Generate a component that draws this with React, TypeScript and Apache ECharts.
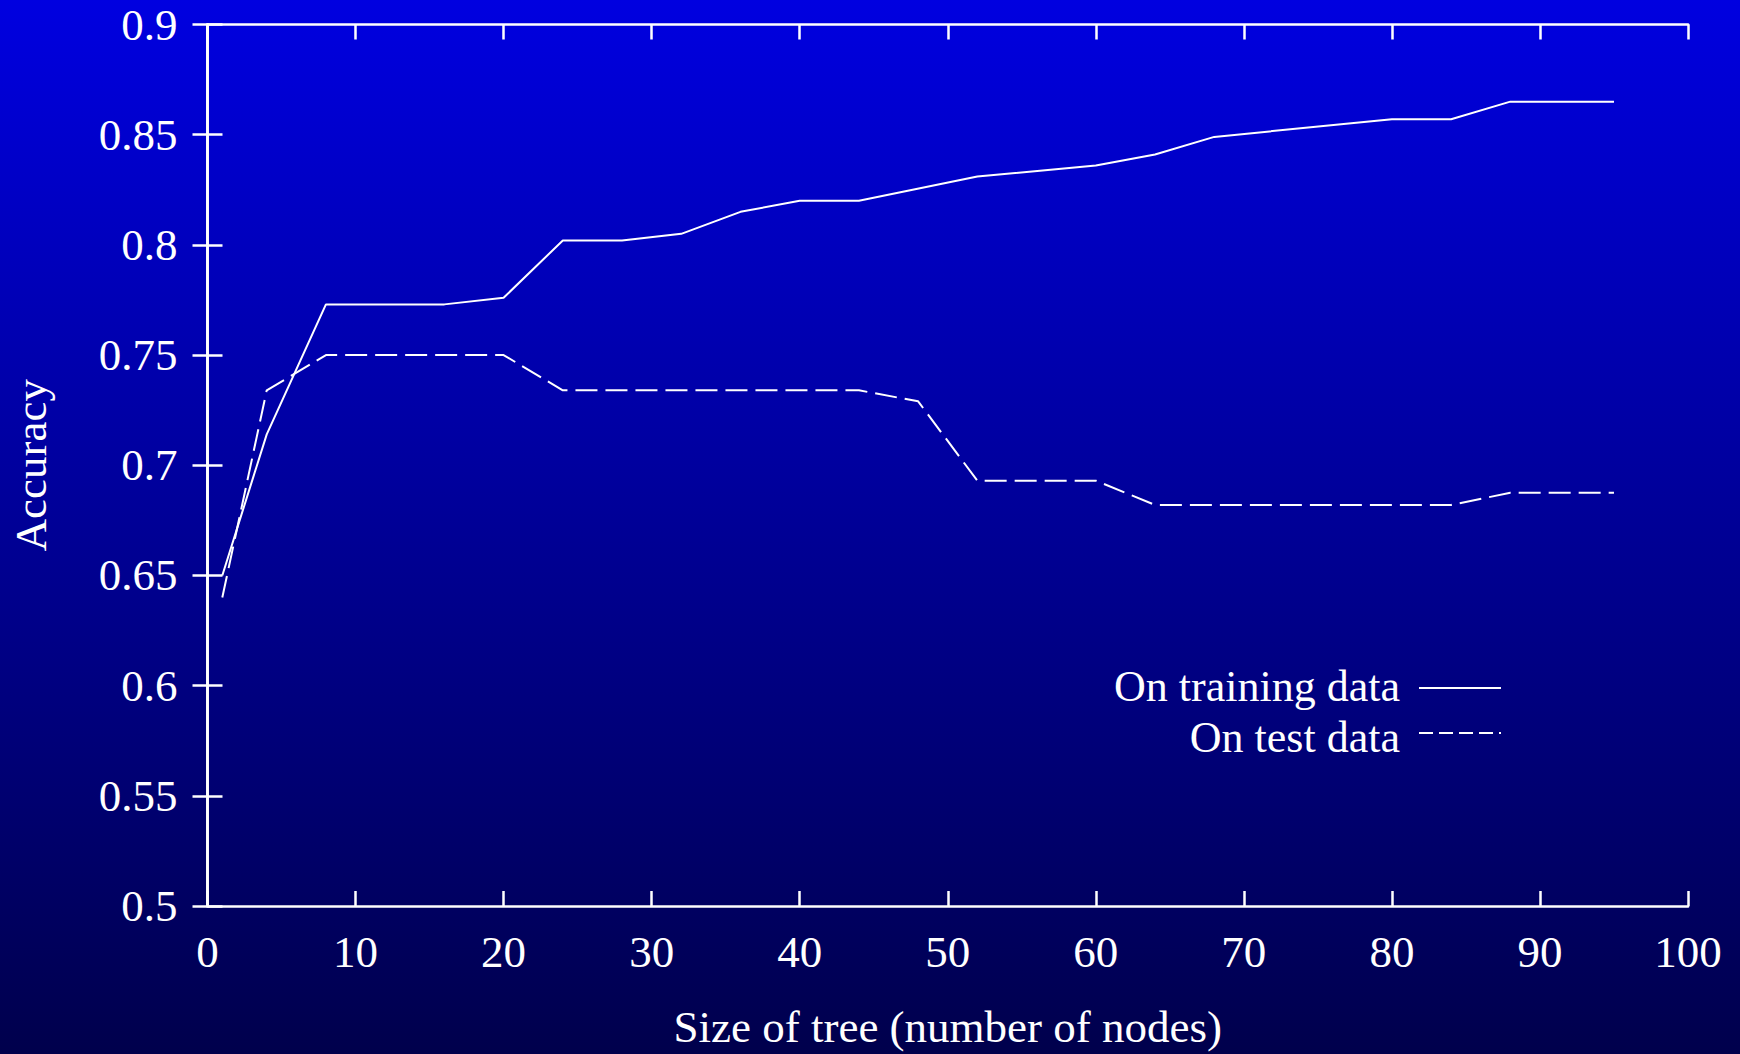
import React, { useEffect, useRef } from "react";
import * as echarts from "echarts";

const xTicks = [0, 10, 20, 30, 40, 50, 60, 70, 80, 90, 100];
const yTicks = [0.5, 0.55, 0.6, 0.65, 0.7, 0.75, 0.8, 0.85, 0.9];

const trainSize = [1, 4, 8, 16, 20, 24, 28, 32, 36, 40, 44, 52, 60, 64, 68, 80, 84, 88, 95];
const trainAcc = [0.65, 0.714, 0.773, 0.773, 0.776, 0.802, 0.802, 0.805, 0.815, 0.82, 0.82, 0.831, 0.836, 0.841, 0.849, 0.857, 0.857, 0.865, 0.865];

const testSize = [1, 4, 8, 20, 24, 44, 48, 52, 60, 64, 84, 88, 95];
const testAcc = [0.64, 0.734, 0.75, 0.75, 0.734, 0.734, 0.729, 0.693, 0.693, 0.682, 0.682, 0.6875, 0.6875];

const seriesNames = ["On training data", "On test data"];
const xTitle = "Size of tree (number of nodes)";
const yTitle = "Accuracy";

const FONT = "Liberation Serif";
const FS = 45;
const LEGEND_FS = 44;

export default function App() {
  const ref = useRef<HTMLDivElement>(null);
  useEffect(() => {
    if (!ref.current) return;
    const chart = echarts.init(ref.current, null, { renderer: "svg" });
    const axisCommon = {
      type: "value" as const,
      axisLine: { show: true, lineStyle: { color: "#fff", width: 2.7 } },
      axisTick: { show: true, inside: true, length: 15, lineStyle: { color: "#fff", width: 2.5 } },
      splitLine: { show: false },
    };
    const xBase = { ...axisCommon, min: xTicks[0], max: xTicks[xTicks.length - 1], interval: 10 };
    const yBase = { ...axisCommon, min: yTicks[0], max: yTicks[yTicks.length - 1], interval: 0.05 };
    chart.setOption({
      animation: false,
      backgroundColor: {
        type: "linear",
        x: 0,
        y: 0,
        x2: 0,
        y2: 1,
        colorStops: [
          { offset: 0, color: "#0000E0" },
          { offset: 1, color: "#00004C" },
        ],
      },
      textStyle: { fontFamily: FONT, color: "#fff" },
      grid: { left: 207.5, right: 52, top: 24.5, bottom: 145 },
      xAxis: [
        {
          ...xBase,
          position: "bottom",
          name: xTitle,
          nameLocation: "middle",
          nameGap: 98,
          nameTextStyle: { fontFamily: FONT, fontSize: FS, color: "#fff" },
          axisLabel: { margin: 23, fontFamily: FONT, fontSize: FS, color: "#fff" },
        },
        { ...xBase, position: "top", axisLabel: { show: false } },
      ],
      yAxis: [
        {
          ...yBase,
          position: "left",
          name: yTitle,
          nameLocation: "middle",
          nameGap: 154,
          nameTextStyle: { fontFamily: FONT, fontSize: FS, color: "#fff" },
          axisLabel: {
            margin: 30,
            fontFamily: FONT,
            fontSize: FS,
            color: "#fff",
            formatter: (v: number) => String(Math.round(v * 100) / 100),
          },
        },
        { ...yBase, position: "right", axisLabel: { show: false } },
      ],
      series: [
        {
          name: seriesNames[0],
          type: "line",
          xAxisIndex: 0,
          yAxisIndex: 0,
          symbol: "none",
          lineStyle: { color: "#fff", width: 2, type: "solid" },
          data: trainSize.map((x, i) => [x, trainAcc[i]]),
        },
        {
          name: seriesNames[1],
          type: "line",
          xAxisIndex: 0,
          yAxisIndex: 0,
          symbol: "none",
          lineStyle: { color: "#fff", width: 2, type: [22, 8] },
          data: testSize.map((x, i) => [x, testAcc[i]]),
        },
      ],
      graphic: [
        {
          type: "text",
          x: 1400,
          y: 686,
          style: {
            text: seriesNames[0],
            fill: "#fff",
            font: `${LEGEND_FS}px "${FONT}"`,
            align: "right",
            verticalAlign: "middle",
          },
        },
        {
          type: "line",
          shape: { x1: 1419, y1: 688, x2: 1501, y2: 688 },
          style: { stroke: "#fff", lineWidth: 2 },
        },
        {
          type: "text",
          x: 1400,
          y: 737,
          style: {
            text: seriesNames[1],
            fill: "#fff",
            font: `${LEGEND_FS}px "${FONT}"`,
            align: "right",
            verticalAlign: "middle",
          },
        },
        {
          type: "line",
          shape: { x1: 1419, y1: 733, x2: 1501, y2: 733 },
          style: { stroke: "#fff", lineWidth: 2, lineDash: [14, 6] },
        },
      ],
    });
    return () => chart.dispose();
  }, []);
  return (
    <div
      ref={ref}
      style={{ position: "fixed", left: 0, top: 0, width: 1740, height: 1054 }}
    />
  );
}
